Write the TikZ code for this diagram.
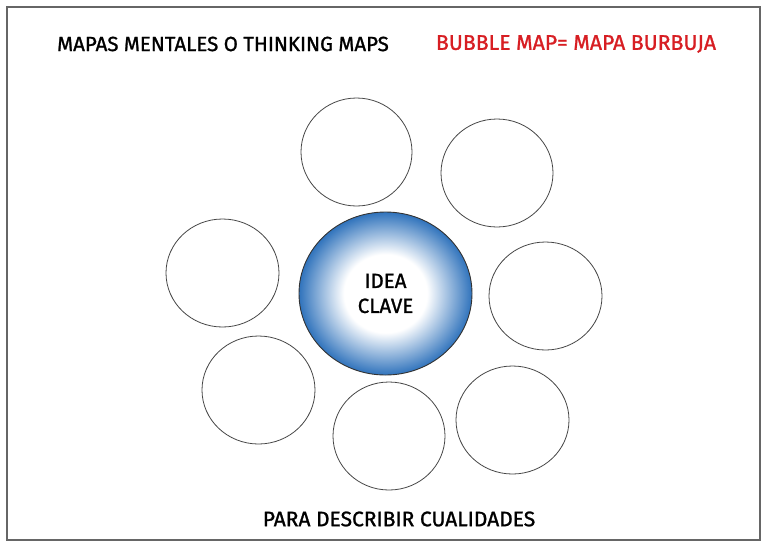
\documentclass[tikz,border=0pt]{standalone}
\usepackage{fontspec}
\setmainfont{Fira Sans}[FakeBold=1.2]
\usetikzlibrary{shapes.geometric}
\definecolor{bubblegray}{RGB}{70,70,70}
\definecolor{ideablue}{RGB}{48,115,188}
\definecolor{titlered}{RGB}{215,30,35}
\pgfdeclareradialshading{ideashade}{\pgfpoint{0bp}{0bp}}{color(0bp)=(white); color(12bp)=(white); color(25bp)=(ideablue); color(50bp)=(ideablue)}
\tikzset{
  bubble/.style={ellipse, draw=bubblegray, line width=0.8pt, inner sep=0pt},
  centre/.style={ellipse, draw=black!80, line width=0.9pt, inner sep=0pt, shading=ideashade, align=center, font=\fontsize{20.5}{25}\selectfont},
  title/.style={font=\fontsize{20.5}{24}\selectfont, inner sep=0pt}
}
\begin{document}
\begin{tikzpicture}[x=1pt,y=-1pt]
\useasboundingbox (0,0) rectangle (768,547);
\node[draw=black!60, line width=1.2pt, minimum width=753pt, minimum height=533pt, inner sep=0pt] (frame) at (383.5,273.5) {};
\node[title] (t1) at (223,44) {MAPAS MENTALES O THINKING MAPS};
\node[title, text=titlered, font=\fontsize{21.2}{24}\selectfont] (t2) at (576,44) {BUBBLE MAP= MAPA BURBUJA};
\node[title, font=\fontsize{21}{24}\selectfont] (t3) at (399,519) {PARA DESCRIBIR CUALIDADES};
\node[centre, minimum width=173pt, minimum height=163pt] (idea) at (385.5,293.5) {IDEA\\CLAVE};
\node[bubble, minimum width=111pt, minimum height=108pt] (b1) at (356.5,152) {};
\node[bubble, minimum width=112pt, minimum height=108pt] (b2) at (497,173) {};
\node[bubble, minimum width=113pt, minimum height=108pt] (b3) at (545.5,296) {};
\node[bubble, minimum width=113pt, minimum height=108pt] (b4) at (512.5,420) {};
\node[bubble, minimum width=112pt, minimum height=108pt] (b5) at (389,436) {};
\node[bubble, minimum width=113pt, minimum height=108pt] (b6) at (258.5,390) {};
\node[bubble, minimum width=113pt, minimum height=108pt] (b7) at (222.5,273) {};
\end{tikzpicture}
\end{document}
